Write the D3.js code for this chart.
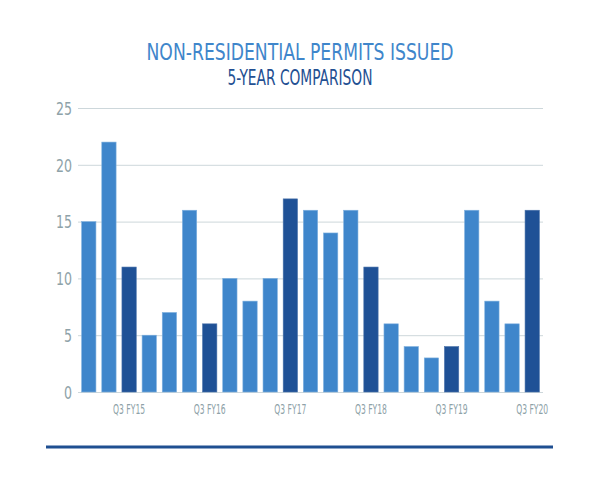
<!DOCTYPE html>
<html><head><meta charset="utf-8">
<script src="https://cdn.jsdelivr.net/npm/d3@7"></script>
<style>html,body{margin:0;padding:0;background:#fff;}</style>
</head><body>
<svg id="chart" width="600" height="491"></svg>
<script>
const quarters = ["Q1 FY15","Q2 FY15","Q3 FY15","Q4 FY15","Q1 FY16","Q2 FY16","Q3 FY16","Q4 FY16","Q1 FY17","Q2 FY17","Q3 FY17","Q4 FY17","Q1 FY18","Q2 FY18","Q3 FY18","Q4 FY18","Q1 FY19","Q2 FY19","Q3 FY19","Q4 FY19","Q1 FY20","Q2 FY20","Q3 FY20"];
const permits = [15,22,11,5,7,16,6,10,8,10,17,16,14,16,11,6,4,3,4,16,8,6,16];
const yTicks = [0,5,10,15,20,25];
const xLabels = ["Q3 FY15","Q3 FY16","Q3 FY17","Q3 FY18","Q3 FY19","Q3 FY20"];

const font = "'Liberation Sans Narrow','DejaVu Sans Condensed','Roboto',sans-serif";
const svg = d3.select("#chart");
const x = d3.scaleBand().domain(quarters).range([78,543]).paddingInner(0.29).paddingOuter(0.18);
const y = d3.scaleLinear().domain([0,25]).range([392,108]);

svg.append("text").attr("x",300).attr("y",60).attr("text-anchor","middle")
  .attr("font-family",font).attr("font-size",23).attr("fill","#3f86cb")
  .attr("textLength",307).attr("lengthAdjust","spacingAndGlyphs")
  .text("NON-RESIDENTIAL PERMITS ISSUED");
svg.append("text").attr("x",300).attr("y",85).attr("text-anchor","middle")
  .attr("font-family",font).attr("font-size",20.5).attr("fill","#234f92")
  .attr("textLength",145).attr("lengthAdjust","spacingAndGlyphs")
  .text("5-YEAR COMPARISON");

const yAxis = d3.axisLeft(y).tickValues(yTicks).tickSize(-(543-78)).tickPadding(6);
const gy = svg.append("g").attr("transform","translate(78,0)").call(yAxis);
gy.select(".domain").remove();
gy.selectAll(".tick line").attr("stroke","#cdd7db").attr("stroke-width",1);
gy.selectAll(".tick text").attr("font-family",font).attr("font-size",17.5).attr("fill","#8ea2a8")
  .attr("dy","0.36em")
  .attr("textLength",d=>String(d).length>1?16:8).attr("lengthAdjust","spacingAndGlyphs");

svg.append("g").selectAll("rect").data(permits).join("rect")
  .attr("x",(d,i)=>x(quarters[i]))
  .attr("y",d=>y(d))
  .attr("width",x.bandwidth())
  .attr("height",d=>y(0)-y(d))
  .attr("fill",(d,i)=>quarters[i].startsWith("Q3") ? "#1f5196" : "#3f86cb")
  .attr("stroke",(d,i)=>quarters[i].startsWith("Q3") ? "#4a72aa" : "#7fb0de")
  .attr("stroke-width",0.6);

const xAxis = d3.axisBottom(x).tickValues(xLabels).tickSize(0).tickPadding(12);
const gx = svg.append("g").attr("transform","translate(0,392)").call(xAxis);
gx.select(".domain").remove();
gx.selectAll(".tick text").attr("font-family",font).attr("font-size",13.5).attr("fill","#8ea2a8")
  .attr("textLength",32).attr("lengthAdjust","spacingAndGlyphs");

svg.append("line").attr("x1",46).attr("x2",553).attr("y1",447).attr("y2",447)
  .attr("stroke","#1f4f91").attr("stroke-width",3);
</script>
</body></html>
